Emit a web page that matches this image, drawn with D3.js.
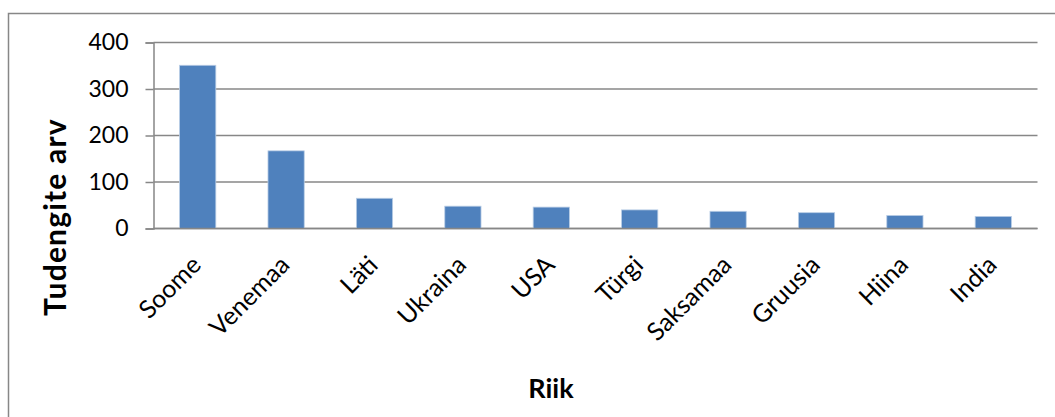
<!DOCTYPE html>
<html>
<head>
<meta charset="utf-8">
<script src="https://cdn.jsdelivr.net/npm/d3@7"></script>
<style>
  html, body { margin: 0; padding: 0; background: #fff; }
  svg { display: block; font-family: Lato, "Open Sans", sans-serif; }
</style>
</head>
<body>
<svg id="chart" width="1055" height="417"></svg>
<script>
const categories = ["Soome", "Venemaa", "Läti", "Ukraina", "USA", "Türgi", "Saksamaa", "Gruusia", "Hiina", "India"];
const values = [351, 167, 65, 48, 46, 40, 37, 34, 28, 26];
const yTicks = [0, 100, 200, 300, 400];
const yTitle = "Tudengite arv";
const xTitle = "Riik";

const svg = d3.select("#chart");
const m = { left: 153.5, right: 1037.5, top: 42.5, bottom: 228.5 };
const FONT = "Lato, 'Open Sans', sans-serif";

// outer chart border (right/bottom outside the view)
svg.append("rect")
  .attr("x", 8.5).attr("y", 13.5)
  .attr("width", 1200).attr("height", 600)
  .attr("fill", "none").attr("stroke", "#878787").attr("stroke-width", 1.5);

const x = d3.scaleBand().domain(categories).range([m.left, m.right]).padding(0);
const y = d3.scaleLinear().domain([0, 400]).range([m.bottom, m.top]);

// y axis + ticks
const yAxis = d3.axisLeft(y).tickValues(yTicks).tickSize(8).tickPadding(17).tickFormat(d3.format("d"));
const gy = svg.append("g").attr("transform", `translate(${m.left},0)`).call(yAxis);
gy.select(".domain").attr("stroke", "#878787").attr("stroke-width", 1.5);
gy.selectAll(".tick line").attr("stroke", "#878787").attr("stroke-width", 1.5);
gy.selectAll(".tick text").attr("font-size", 23).attr("fill", "#000").attr("font-family", FONT);

// gridlines
svg.append("g").selectAll("line").data(yTicks).join("line")
  .attr("x1", m.left).attr("x2", m.right)
  .attr("y1", d => y(d)).attr("y2", d => y(d))
  .attr("stroke", "#878787").attr("stroke-width", 1.5);

// bars
const bw = x.bandwidth() * 0.41;
svg.append("g").selectAll("rect").data(categories).join("rect")
  .attr("x", (d) => x(d) + (x.bandwidth() - bw) / 2)
  .attr("y", (d, i) => y(values[i]))
  .attr("width", bw)
  .attr("height", (d, i) => y(0) - y(values[i]))
  .attr("fill", "#4F81BD")
  .attr("stroke", "#B9CDE5").attr("stroke-width", 0.8);

// x axis line (over bars)
svg.append("line")
  .attr("x1", m.left).attr("x2", m.right)
  .attr("y1", y(0)).attr("y2", y(0))
  .attr("stroke", "#878787").attr("stroke-width", 1.5);

// category labels
const xAxis = d3.axisBottom(x).tickSize(0).tickPadding(0);
const gx = svg.append("g").attr("transform", `translate(0,${m.bottom})`).call(xAxis);
gx.select(".domain").remove();
gx.selectAll(".tick text")
  .attr("font-size", 25).attr("fill", "#000")
  .attr("font-family", FONT)
  .attr("text-anchor", "end")
  .attr("dy", 0)
  .attr("y", 0)
  .attr("transform", "translate(5,38) rotate(-45)");

// axis titles
svg.append("text")
  .attr("transform", `translate(66,217) rotate(-90)`)
  .attr("text-anchor", "middle")
  .attr("font-size", 30).attr("font-weight", "bold").attr("fill", "#000")
  .attr("letter-spacing", 1.2)
  .attr("font-family", FONT)
  .text(yTitle);

svg.append("text")
  .attr("x", 551).attr("y", 398)
  .attr("text-anchor", "middle")
  .attr("font-size", 27).attr("font-weight", "bold").attr("fill", "#000")
  .attr("font-family", FONT)
  .text(xTitle);
</script>
</body>
</html>
